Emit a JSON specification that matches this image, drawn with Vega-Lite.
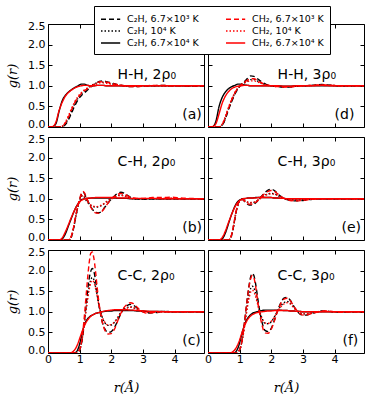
{
"$schema":"https://vega.github.io/schema/vega-lite/v6.json",
"background":"white",
"padding":{"left":6,"top":5,"right":5,"bottom":5},
"datasets":{"g":[
{"p":"a","r":0,"A1":0,"A2":0,"A3":0,"B1":0,"B2":0,"B3":0},
{"p":"a","r":0.15,"A1":0,"A2":0,"A3":0.01,"B1":0,"B2":0,"B3":0.01},
{"p":"a","r":0.25,"A1":0,"A2":0,"A3":0.08,"B1":0,"B2":0,"B3":0.12},
{"p":"a","r":0.35,"A1":0,"A2":0,"A3":0.38,"B1":0,"B2":0,"B3":0.4},
{"p":"a","r":0.45,"A1":0.01,"A2":0.01,"A3":0.64,"B1":0.02,"B2":0.02,"B3":0.6},
{"p":"a","r":0.55,"A1":0.06,"A2":0.08,"A3":0.77,"B1":0.1,"B2":0.12,"B3":0.75},
{"p":"a","r":0.65,"A1":0.18,"A2":0.22,"A3":0.85,"B1":0.25,"B2":0.28,"B3":0.84},
{"p":"a","r":0.75,"A1":0.35,"A2":0.4,"A3":0.91,"B1":0.43,"B2":0.46,"B3":0.9},
{"p":"a","r":0.85,"A1":0.52,"A2":0.57,"A3":0.96,"B1":0.6,"B2":0.62,"B3":0.95},
{"p":"a","r":0.95,"A1":0.66,"A2":0.7,"A3":1.0,"B1":0.72,"B2":0.74,"B3":0.98},
{"p":"a","r":1.05,"A1":0.76,"A2":0.8,"A3":1.04,"B1":0.81,"B2":0.83,"B3":1.0},
{"p":"a","r":1.15,"A1":0.83,"A2":0.88,"A3":1.04,"B1":0.88,"B2":0.9,"B3":1.01},
{"p":"a","r":1.25,"A1":0.9,"A2":0.94,"A3":1.01,"B1":0.93,"B2":0.95,"B3":1.01},
{"p":"a","r":1.35,"A1":0.97,"A2":0.99,"A3":1.0,"B1":0.98,"B2":0.99,"B3":1.0},
{"p":"a","r":1.45,"A1":1.03,"A2":1.04,"A3":1.0,"B1":1.03,"B2":1.02,"B3":1.0},
{"p":"a","r":1.55,"A1":1.08,"A2":1.07,"A3":1.01,"B1":1.07,"B2":1.05,"B3":1.01},
{"p":"a","r":1.65,"A1":1.11,"A2":1.09,"A3":1.01,"B1":1.1,"B2":1.07,"B3":1.01},
{"p":"a","r":1.75,"A1":1.12,"A2":1.09,"A3":1.01,"B1":1.1,"B2":1.07,"B3":1.01},
{"p":"a","r":1.85,"A1":1.1,"A2":1.08,"A3":1.0,"B1":1.09,"B2":1.06,"B3":1.0},
{"p":"a","r":2.0,"A1":1.07,"A2":1.05,"A3":1.0,"B1":1.06,"B2":1.04,"B3":1.0},
{"p":"a","r":2.2,"A1":1.03,"A2":1.02,"A3":1.0,"B1":1.03,"B2":1.02,"B3":1.0},
{"p":"a","r":2.4,"A1":1.0,"A2":1.0,"A3":1.0,"B1":1.0,"B2":1.0,"B3":1.0},
{"p":"a","r":2.6,"A1":0.98,"A2":0.99,"A3":1.0,"B1":0.98,"B2":0.99,"B3":1.0},
{"p":"a","r":2.8,"A1":0.98,"A2":0.99,"A3":1.0,"B1":0.98,"B2":0.99,"B3":1.0},
{"p":"a","r":3.0,"A1":0.99,"A2":1.0,"A3":1.0,"B1":0.99,"B2":1.0,"B3":1.0},
{"p":"a","r":3.3,"A1":1.0,"A2":1.0,"A3":1.0,"B1":1.01,"B2":1.0,"B3":1.0},
{"p":"a","r":3.6,"A1":1.01,"A2":1.0,"A3":1.0,"B1":1.01,"B2":1.0,"B3":1.0},
{"p":"a","r":3.9,"A1":1.0,"A2":1.0,"A3":1.0,"B1":1.0,"B2":1.0,"B3":1.0},
{"p":"a","r":4.2,"A1":1.0,"A2":1.0,"A3":1.0,"B1":1.0,"B2":1.0,"B3":1.0},
{"p":"a","r":4.5,"A1":0.99,"A2":1.0,"A3":1.0,"B1":1.0,"B2":1.0,"B3":1.0},
{"p":"a","r":4.93,"A1":1.0,"A2":1.0,"A3":1.0,"B1":1.0,"B2":1.0,"B3":1.0},

{"p":"d","r":0,"A1":0,"A2":0,"A3":0,"B1":0,"B2":0,"B3":0},
{"p":"d","r":0.15,"A1":0,"A2":0,"A3":0.01,"B1":0,"B2":0,"B3":0.01},
{"p":"d","r":0.25,"A1":0,"A2":0,"A3":0.14,"B1":0,"B2":0,"B3":0.08},
{"p":"d","r":0.35,"A1":0,"A2":0,"A3":0.5,"B1":0,"B2":0.01,"B3":0.32},
{"p":"d","r":0.45,"A1":0.04,"A2":0.05,"A3":0.72,"B1":0.06,"B2":0.07,"B3":0.58},
{"p":"d","r":0.55,"A1":0.2,"A2":0.22,"A3":0.85,"B1":0.24,"B2":0.26,"B3":0.75},
{"p":"d","r":0.65,"A1":0.42,"A2":0.45,"A3":0.93,"B1":0.46,"B2":0.48,"B3":0.86},
{"p":"d","r":0.75,"A1":0.62,"A2":0.65,"A3":0.98,"B1":0.66,"B2":0.68,"B3":0.93},
{"p":"d","r":0.85,"A1":0.8,"A2":0.82,"A3":1.01,"B1":0.83,"B2":0.84,"B3":0.97},
{"p":"d","r":0.95,"A1":0.93,"A2":0.94,"A3":1.04,"B1":0.95,"B2":0.95,"B3":0.99},
{"p":"d","r":1.05,"A1":1.03,"A2":1.02,"A3":1.04,"B1":1.03,"B2":1.02,"B3":1.0},
{"p":"d","r":1.15,"A1":1.1,"A2":1.07,"A3":1.02,"B1":1.09,"B2":1.07,"B3":1.01},
{"p":"d","r":1.25,"A1":1.18,"A2":1.12,"A3":1.01,"B1":1.14,"B2":1.1,"B3":1.01},
{"p":"d","r":1.35,"A1":1.24,"A2":1.15,"A3":1.0,"B1":1.17,"B2":1.12,"B3":1.0},
{"p":"d","r":1.45,"A1":1.23,"A2":1.15,"A3":1.0,"B1":1.17,"B2":1.12,"B3":1.0},
{"p":"d","r":1.55,"A1":1.18,"A2":1.12,"A3":1.0,"B1":1.14,"B2":1.1,"B3":1.0},
{"p":"d","r":1.65,"A1":1.12,"A2":1.08,"A3":1.0,"B1":1.09,"B2":1.07,"B3":1.0},
{"p":"d","r":1.75,"A1":1.07,"A2":1.05,"A3":1.0,"B1":1.05,"B2":1.04,"B3":1.0},
{"p":"d","r":1.85,"A1":1.03,"A2":1.02,"A3":1.0,"B1":1.02,"B2":1.02,"B3":1.0},
{"p":"d","r":2.0,"A1":1.0,"A2":1.0,"A3":1.0,"B1":1.0,"B2":1.0,"B3":1.0},
{"p":"d","r":2.2,"A1":0.98,"A2":0.99,"A3":1.0,"B1":0.98,"B2":0.99,"B3":1.0},
{"p":"d","r":2.4,"A1":0.97,"A2":0.98,"A3":0.99,"B1":0.97,"B2":0.98,"B3":0.99},
{"p":"d","r":2.6,"A1":0.97,"A2":0.98,"A3":0.99,"B1":0.97,"B2":0.98,"B3":0.99},
{"p":"d","r":2.8,"A1":0.99,"A2":0.99,"A3":1.0,"B1":0.99,"B2":0.99,"B3":1.0},
{"p":"d","r":3.0,"A1":1.0,"A2":1.0,"A3":1.0,"B1":1.0,"B2":1.0,"B3":1.0},
{"p":"d","r":3.3,"A1":1.01,"A2":1.01,"A3":1.0,"B1":1.01,"B2":1.01,"B3":1.0},
{"p":"d","r":3.6,"A1":1.03,"A2":1.02,"A3":1.0,"B1":1.02,"B2":1.02,"B3":1.01},
{"p":"d","r":3.9,"A1":1.01,"A2":1.01,"A3":1.0,"B1":1.01,"B2":1.01,"B3":1.0},
{"p":"d","r":4.2,"A1":1.0,"A2":1.0,"A3":1.0,"B1":1.0,"B2":1.0,"B3":1.0},
{"p":"d","r":4.5,"A1":1.0,"A2":1.0,"A3":1.0,"B1":1.0,"B2":1.0,"B3":1.0},
{"p":"d","r":4.93,"A1":1.0,"A2":1.0,"A3":1.0,"B1":1.0,"B2":1.0,"B3":1.0},

{"p":"b","r":0,"A1":0,"A2":0,"A3":0,"B1":0,"B2":0,"B3":0},
{"p":"b","r":0.35,"A1":0,"A2":0,"A3":0,"B1":0,"B2":0,"B3":0},
{"p":"b","r":0.45,"A1":0,"A2":0,"A3":0.03,"B1":0,"B2":0,"B3":0.05},
{"p":"b","r":0.55,"A1":0,"A2":0,"A3":0.15,"B1":0,"B2":0,"B3":0.2},
{"p":"b","r":0.65,"A1":0,"A2":0,"A3":0.35,"B1":0,"B2":0,"B3":0.38},
{"p":"b","r":0.7,"A1":0.02,"A2":0.02,"A3":0.45,"B1":0.03,"B2":0.03,"B3":0.48},
{"p":"b","r":0.75,"A1":0.1,"A2":0.1,"A3":0.55,"B1":0.12,"B2":0.12,"B3":0.57},
{"p":"b","r":0.8,"A1":0.25,"A2":0.25,"A3":0.65,"B1":0.28,"B2":0.28,"B3":0.66},
{"p":"b","r":0.85,"A1":0.45,"A2":0.45,"A3":0.74,"B1":0.48,"B2":0.48,"B3":0.74},
{"p":"b","r":0.9,"A1":0.65,"A2":0.65,"A3":0.82,"B1":0.68,"B2":0.67,"B3":0.81},
{"p":"b","r":0.95,"A1":0.83,"A2":0.82,"A3":0.88,"B1":0.86,"B2":0.83,"B3":0.87},
{"p":"b","r":1.0,"A1":0.98,"A2":0.96,"A3":0.93,"B1":1.0,"B2":0.96,"B3":0.92},
{"p":"b","r":1.05,"A1":1.1,"A2":1.05,"A3":0.97,"B1":1.12,"B2":1.05,"B3":0.96},
{"p":"b","r":1.1,"A1":1.16,"A2":1.08,"A3":0.99,"B1":1.18,"B2":1.09,"B3":0.98},
{"p":"b","r":1.15,"A1":1.13,"A2":1.04,"A3":1.0,"B1":1.15,"B2":1.06,"B3":1.0},
{"p":"b","r":1.2,"A1":1.04,"A2":0.97,"A3":1.01,"B1":1.06,"B2":0.99,"B3":1.01},
{"p":"b","r":1.3,"A1":0.88,"A2":0.87,"A3":1.01,"B1":0.88,"B2":0.88,"B3":1.02},
{"p":"b","r":1.4,"A1":0.75,"A2":0.82,"A3":1.02,"B1":0.74,"B2":0.83,"B3":1.02},
{"p":"b","r":1.5,"A1":0.67,"A2":0.8,"A3":1.02,"B1":0.66,"B2":0.81,"B3":1.03},
{"p":"b","r":1.6,"A1":0.66,"A2":0.81,"A3":1.02,"B1":0.65,"B2":0.82,"B3":1.03},
{"p":"b","r":1.7,"A1":0.7,"A2":0.84,"A3":1.02,"B1":0.69,"B2":0.85,"B3":1.03},
{"p":"b","r":1.8,"A1":0.8,"A2":0.9,"A3":1.02,"B1":0.79,"B2":0.9,"B3":1.03},
{"p":"b","r":1.9,"A1":0.9,"A2":0.96,"A3":1.02,"B1":0.9,"B2":0.95,"B3":1.03},
{"p":"b","r":2.0,"A1":0.99,"A2":1.01,"A3":1.02,"B1":0.99,"B2":1.0,"B3":1.03},
{"p":"b","r":2.1,"A1":1.07,"A2":1.05,"A3":1.02,"B1":1.06,"B2":1.04,"B3":1.03},
{"p":"b","r":2.2,"A1":1.13,"A2":1.08,"A3":1.01,"B1":1.11,"B2":1.07,"B3":1.02},
{"p":"b","r":2.3,"A1":1.16,"A2":1.09,"A3":1.01,"B1":1.13,"B2":1.08,"B3":1.02},
{"p":"b","r":2.4,"A1":1.14,"A2":1.08,"A3":1.01,"B1":1.12,"B2":1.07,"B3":1.02},
{"p":"b","r":2.5,"A1":1.09,"A2":1.05,"A3":1.01,"B1":1.08,"B2":1.05,"B3":1.02},
{"p":"b","r":2.6,"A1":1.04,"A2":1.02,"A3":1.0,"B1":1.04,"B2":1.02,"B3":1.01},
{"p":"b","r":2.7,"A1":1.01,"A2":1.0,"A3":1.0,"B1":1.02,"B2":1.0,"B3":1.01},
{"p":"b","r":2.8,"A1":1.0,"A2":0.99,"A3":1.0,"B1":1.01,"B2":1.0,"B3":1.01},
{"p":"b","r":3.0,"A1":0.99,"A2":0.99,"A3":1.0,"B1":1.01,"B2":1.0,"B3":1.01},
{"p":"b","r":3.3,"A1":1.0,"A2":1.0,"A3":1.0,"B1":1.03,"B2":1.01,"B3":1.01},
{"p":"b","r":3.6,"A1":1.0,"A2":1.0,"A3":1.0,"B1":1.03,"B2":1.01,"B3":1.0},
{"p":"b","r":3.9,"A1":1.0,"A2":1.0,"A3":1.0,"B1":1.04,"B2":1.02,"B3":1.0},
{"p":"b","r":4.2,"A1":1.0,"A2":1.0,"A3":1.0,"B1":1.02,"B2":1.0,"B3":1.0},
{"p":"b","r":4.5,"A1":1.0,"A2":1.0,"A3":1.0,"B1":1.01,"B2":1.0,"B3":1.0},
{"p":"b","r":4.93,"A1":1.0,"A2":1.0,"A3":1.0,"B1":1.0,"B2":1.0,"B3":1.0},

{"p":"e","r":0,"A1":0,"A2":0,"A3":0,"B1":0,"B2":0,"B3":0},
{"p":"e","r":0.35,"A1":0,"A2":0,"A3":0,"B1":0,"B2":0,"B3":0},
{"p":"e","r":0.45,"A1":0,"A2":0,"A3":0.03,"B1":0,"B2":0,"B3":0.06},
{"p":"e","r":0.55,"A1":0,"A2":0,"A3":0.17,"B1":0,"B2":0,"B3":0.22},
{"p":"e","r":0.65,"A1":0,"A2":0,"A3":0.4,"B1":0,"B2":0,"B3":0.43},
{"p":"e","r":0.7,"A1":0.03,"A2":0.03,"A3":0.52,"B1":0.04,"B2":0.04,"B3":0.53},
{"p":"e","r":0.75,"A1":0.12,"A2":0.12,"A3":0.63,"B1":0.14,"B2":0.14,"B3":0.63},
{"p":"e","r":0.8,"A1":0.3,"A2":0.3,"A3":0.73,"B1":0.32,"B2":0.32,"B3":0.72},
{"p":"e","r":0.85,"A1":0.52,"A2":0.52,"A3":0.82,"B1":0.54,"B2":0.54,"B3":0.8},
{"p":"e","r":0.9,"A1":0.72,"A2":0.72,"A3":0.89,"B1":0.74,"B2":0.73,"B3":0.87},
{"p":"e","r":0.95,"A1":0.87,"A2":0.86,"A3":0.94,"B1":0.88,"B2":0.87,"B3":0.92},
{"p":"e","r":1.0,"A1":0.96,"A2":0.95,"A3":0.97,"B1":0.96,"B2":0.95,"B3":0.96},
{"p":"e","r":1.05,"A1":0.99,"A2":0.98,"A3":0.99,"B1":0.99,"B2":0.98,"B3":0.98},
{"p":"e","r":1.1,"A1":0.98,"A2":0.98,"A3":1.0,"B1":0.98,"B2":0.98,"B3":1.0},
{"p":"e","r":1.15,"A1":0.94,"A2":0.96,"A3":1.0,"B1":0.95,"B2":0.96,"B3":1.01},
{"p":"e","r":1.2,"A1":0.9,"A2":0.94,"A3":1.01,"B1":0.91,"B2":0.94,"B3":1.01},
{"p":"e","r":1.3,"A1":0.85,"A2":0.9,"A3":1.02,"B1":0.87,"B2":0.91,"B3":1.02},
{"p":"e","r":1.4,"A1":0.85,"A2":0.9,"A3":1.02,"B1":0.87,"B2":0.91,"B3":1.02},
{"p":"e","r":1.5,"A1":0.9,"A2":0.93,"A3":1.03,"B1":0.91,"B2":0.93,"B3":1.02},
{"p":"e","r":1.6,"A1":0.98,"A2":0.98,"A3":1.03,"B1":0.98,"B2":0.98,"B3":1.03},
{"p":"e","r":1.7,"A1":1.07,"A2":1.04,"A3":1.03,"B1":1.06,"B2":1.03,"B3":1.03},
{"p":"e","r":1.8,"A1":1.15,"A2":1.09,"A3":1.03,"B1":1.13,"B2":1.08,"B3":1.03},
{"p":"e","r":1.9,"A1":1.21,"A2":1.12,"A3":1.03,"B1":1.18,"B2":1.11,"B3":1.03},
{"p":"e","r":2.0,"A1":1.23,"A2":1.13,"A3":1.03,"B1":1.2,"B2":1.12,"B3":1.03},
{"p":"e","r":2.1,"A1":1.2,"A2":1.12,"A3":1.02,"B1":1.18,"B2":1.11,"B3":1.02},
{"p":"e","r":2.2,"A1":1.13,"A2":1.08,"A3":1.02,"B1":1.12,"B2":1.08,"B3":1.02},
{"p":"e","r":2.3,"A1":1.06,"A2":1.04,"A3":1.01,"B1":1.06,"B2":1.04,"B3":1.01},
{"p":"e","r":2.4,"A1":1.01,"A2":1.01,"A3":1.01,"B1":1.01,"B2":1.01,"B3":1.01},
{"p":"e","r":2.5,"A1":0.98,"A2":0.99,"A3":1.0,"B1":0.98,"B2":0.99,"B3":1.0},
{"p":"e","r":2.6,"A1":0.96,"A2":0.98,"A3":1.0,"B1":0.96,"B2":0.98,"B3":1.0},
{"p":"e","r":2.7,"A1":0.95,"A2":0.97,"A3":1.0,"B1":0.95,"B2":0.97,"B3":1.0},
{"p":"e","r":2.8,"A1":0.95,"A2":0.97,"A3":1.0,"B1":0.95,"B2":0.97,"B3":1.0},
{"p":"e","r":3.0,"A1":0.96,"A2":0.98,"A3":1.0,"B1":0.96,"B2":0.98,"B3":1.0},
{"p":"e","r":3.3,"A1":0.99,"A2":0.99,"A3":1.0,"B1":0.99,"B2":0.99,"B3":1.0},
{"p":"e","r":3.6,"A1":1.0,"A2":1.0,"A3":1.0,"B1":1.0,"B2":1.0,"B3":1.0},
{"p":"e","r":3.9,"A1":1.0,"A2":1.0,"A3":1.0,"B1":1.0,"B2":1.0,"B3":1.0},
{"p":"e","r":4.2,"A1":1.0,"A2":1.0,"A3":1.0,"B1":1.0,"B2":1.0,"B3":1.0},
{"p":"e","r":4.5,"A1":1.0,"A2":1.0,"A3":1.0,"B1":1.0,"B2":1.0,"B3":1.0},
{"p":"e","r":4.93,"A1":1.0,"A2":1.0,"A3":1.0,"B1":1.0,"B2":1.0,"B3":1.0},

{"p":"c","r":0,"A1":0,"A2":0,"A3":0,"B1":0,"B2":0,"B3":0},
{"p":"c","r":0.7,"A1":0,"A2":0,"A3":0,"B1":0,"B2":0,"B3":0},
{"p":"c","r":0.8,"A1":0,"A2":0,"A3":0,"B1":0,"B2":0,"B3":0.04},
{"p":"c","r":0.9,"A1":0,"A2":0,"A3":0.03,"B1":0,"B2":0,"B3":0.15},
{"p":"c","r":0.95,"A1":0.02,"A2":0.02,"A3":0.1,"B1":0.02,"B2":0.02,"B3":0.24},
{"p":"c","r":1.0,"A1":0.08,"A2":0.08,"A3":0.22,"B1":0.08,"B2":0.08,"B3":0.35},
{"p":"c","r":1.05,"A1":0.2,"A2":0.22,"A3":0.38,"B1":0.22,"B2":0.22,"B3":0.46},
{"p":"c","r":1.1,"A1":0.42,"A2":0.45,"A3":0.55,"B1":0.5,"B2":0.45,"B3":0.57},
{"p":"c","r":1.15,"A1":0.75,"A2":0.75,"A3":0.68,"B1":0.9,"B2":0.73,"B3":0.66},
{"p":"c","r":1.2,"A1":1.12,"A2":1.05,"A3":0.77,"B1":1.35,"B2":1.02,"B3":0.74},
{"p":"c","r":1.25,"A1":1.5,"A2":1.35,"A3":0.83,"B1":1.8,"B2":1.3,"B3":0.8},
{"p":"c","r":1.3,"A1":1.8,"A2":1.6,"A3":0.87,"B1":2.18,"B2":1.53,"B3":0.85},
{"p":"c","r":1.35,"A1":1.98,"A2":1.77,"A3":0.9,"B1":2.42,"B2":1.7,"B3":0.89},
{"p":"c","r":1.4,"A1":2.05,"A2":1.83,"A3":0.92,"B1":2.45,"B2":1.76,"B3":0.92},
{"p":"c","r":1.45,"A1":1.98,"A2":1.78,"A3":0.94,"B1":2.3,"B2":1.72,"B3":0.94},
{"p":"c","r":1.5,"A1":1.78,"A2":1.62,"A3":0.96,"B1":2.0,"B2":1.58,"B3":0.96},
{"p":"c","r":1.55,"A1":1.5,"A2":1.42,"A3":0.97,"B1":1.62,"B2":1.4,"B3":0.97},
{"p":"c","r":1.6,"A1":1.22,"A2":1.2,"A3":0.98,"B1":1.28,"B2":1.2,"B3":0.98},
{"p":"c","r":1.7,"A1":0.8,"A2":0.9,"A3":1.0,"B1":0.8,"B2":0.9,"B3":1.0},
{"p":"c","r":1.8,"A1":0.58,"A2":0.73,"A3":1.01,"B1":0.55,"B2":0.74,"B3":1.02},
{"p":"c","r":1.9,"A1":0.5,"A2":0.67,"A3":1.02,"B1":0.46,"B2":0.68,"B3":1.03},
{"p":"c","r":2.0,"A1":0.52,"A2":0.68,"A3":1.02,"B1":0.47,"B2":0.69,"B3":1.04},
{"p":"c","r":2.1,"A1":0.62,"A2":0.75,"A3":1.03,"B1":0.58,"B2":0.75,"B3":1.05},
{"p":"c","r":2.2,"A1":0.78,"A2":0.86,"A3":1.03,"B1":0.77,"B2":0.85,"B3":1.05},
{"p":"c","r":2.3,"A1":0.95,"A2":0.98,"A3":1.03,"B1":0.96,"B2":0.97,"B3":1.05},
{"p":"c","r":2.4,"A1":1.08,"A2":1.06,"A3":1.03,"B1":1.1,"B2":1.05,"B3":1.05},
{"p":"c","r":2.5,"A1":1.15,"A2":1.1,"A3":1.03,"B1":1.18,"B2":1.09,"B3":1.05},
{"p":"c","r":2.6,"A1":1.18,"A2":1.12,"A3":1.03,"B1":1.22,"B2":1.11,"B3":1.04},
{"p":"c","r":2.7,"A1":1.16,"A2":1.1,"A3":1.03,"B1":1.2,"B2":1.1,"B3":1.04},
{"p":"c","r":2.8,"A1":1.1,"A2":1.06,"A3":1.02,"B1":1.12,"B2":1.06,"B3":1.03},
{"p":"c","r":2.9,"A1":1.04,"A2":1.02,"A3":1.02,"B1":1.05,"B2":1.02,"B3":1.03},
{"p":"c","r":3.0,"A1":1.0,"A2":1.0,"A3":1.02,"B1":1.0,"B2":1.0,"B3":1.02},
{"p":"c","r":3.1,"A1":0.98,"A2":0.99,"A3":1.01,"B1":0.97,"B2":0.99,"B3":1.02},
{"p":"c","r":3.2,"A1":0.97,"A2":0.99,"A3":1.01,"B1":0.97,"B2":0.99,"B3":1.01},
{"p":"c","r":3.4,"A1":0.98,"A2":0.99,"A3":1.01,"B1":0.99,"B2":0.99,"B3":1.01},
{"p":"c","r":3.6,"A1":1.0,"A2":1.0,"A3":1.01,"B1":1.01,"B2":1.0,"B3":1.0},
{"p":"c","r":3.8,"A1":1.01,"A2":1.0,"A3":1.0,"B1":1.0,"B2":1.0,"B3":1.0},
{"p":"c","r":4.0,"A1":1.0,"A2":1.0,"A3":1.0,"B1":1.0,"B2":1.0,"B3":1.0},
{"p":"c","r":4.2,"A1":1.0,"A2":1.0,"A3":1.0,"B1":1.0,"B2":1.0,"B3":1.0},
{"p":"c","r":4.5,"A1":1.0,"A2":1.0,"A3":1.0,"B1":1.0,"B2":1.0,"B3":1.0},
{"p":"c","r":4.93,"A1":1.0,"A2":1.0,"A3":1.0,"B1":1.0,"B2":1.0,"B3":1.0},

{"p":"f","r":0,"A1":0,"A2":0,"A3":0,"B1":0,"B2":0,"B3":0},
{"p":"f","r":0.7,"A1":0,"A2":0,"A3":0,"B1":0,"B2":0,"B3":0},
{"p":"f","r":0.8,"A1":0,"A2":0,"A3":0,"B1":0,"B2":0,"B3":0.04},
{"p":"f","r":0.9,"A1":0,"A2":0,"A3":0.05,"B1":0,"B2":0,"B3":0.14},
{"p":"f","r":0.95,"A1":0.02,"A2":0.02,"A3":0.13,"B1":0.02,"B2":0.02,"B3":0.22},
{"p":"f","r":1.0,"A1":0.08,"A2":0.08,"A3":0.25,"B1":0.08,"B2":0.08,"B3":0.32},
{"p":"f","r":1.05,"A1":0.2,"A2":0.2,"A3":0.4,"B1":0.2,"B2":0.2,"B3":0.44},
{"p":"f","r":1.1,"A1":0.42,"A2":0.4,"A3":0.55,"B1":0.42,"B2":0.38,"B3":0.55},
{"p":"f","r":1.15,"A1":0.72,"A2":0.65,"A3":0.67,"B1":0.72,"B2":0.62,"B3":0.65},
{"p":"f","r":1.2,"A1":1.05,"A2":0.93,"A3":0.77,"B1":1.04,"B2":0.88,"B3":0.74},
{"p":"f","r":1.25,"A1":1.38,"A2":1.2,"A3":0.84,"B1":1.36,"B2":1.13,"B3":0.81},
{"p":"f","r":1.3,"A1":1.65,"A2":1.42,"A3":0.89,"B1":1.62,"B2":1.34,"B3":0.86},
{"p":"f","r":1.35,"A1":1.85,"A2":1.57,"A3":0.93,"B1":1.81,"B2":1.48,"B3":0.9},
{"p":"f","r":1.4,"A1":1.93,"A2":1.62,"A3":0.96,"B1":1.88,"B2":1.52,"B3":0.93},
{"p":"f","r":1.45,"A1":1.88,"A2":1.58,"A3":0.98,"B1":1.83,"B2":1.49,"B3":0.95},
{"p":"f","r":1.5,"A1":1.7,"A2":1.46,"A3":0.99,"B1":1.64,"B2":1.38,"B3":0.97},
{"p":"f","r":1.55,"A1":1.45,"A2":1.3,"A3":1.0,"B1":1.38,"B2":1.24,"B3":0.98},
{"p":"f","r":1.6,"A1":1.18,"A2":1.12,"A3":1.01,"B1":1.1,"B2":1.08,"B3":0.99},
{"p":"f","r":1.7,"A1":0.77,"A2":0.86,"A3":1.03,"B1":0.7,"B2":0.85,"B3":1.0},
{"p":"f","r":1.8,"A1":0.55,"A2":0.72,"A3":1.04,"B1":0.49,"B2":0.73,"B3":1.01},
{"p":"f","r":1.9,"A1":0.52,"A2":0.71,"A3":1.04,"B1":0.48,"B2":0.72,"B3":1.02},
{"p":"f","r":2.0,"A1":0.6,"A2":0.76,"A3":1.04,"B1":0.58,"B2":0.77,"B3":1.02},
{"p":"f","r":2.1,"A1":0.8,"A2":0.88,"A3":1.04,"B1":0.78,"B2":0.88,"B3":1.03},
{"p":"f","r":2.2,"A1":1.03,"A2":1.02,"A3":1.04,"B1":1.02,"B2":1.01,"B3":1.03},
{"p":"f","r":2.3,"A1":1.22,"A2":1.14,"A3":1.04,"B1":1.2,"B2":1.12,"B3":1.03},
{"p":"f","r":2.4,"A1":1.33,"A2":1.22,"A3":1.03,"B1":1.31,"B2":1.19,"B3":1.03},
{"p":"f","r":2.5,"A1":1.35,"A2":1.25,"A3":1.03,"B1":1.33,"B2":1.22,"B3":1.03},
{"p":"f","r":2.6,"A1":1.28,"A2":1.21,"A3":1.02,"B1":1.27,"B2":1.19,"B3":1.02},
{"p":"f","r":2.7,"A1":1.15,"A2":1.12,"A3":1.02,"B1":1.15,"B2":1.11,"B3":1.02},
{"p":"f","r":2.8,"A1":1.03,"A2":1.04,"A3":1.01,"B1":1.04,"B2":1.03,"B3":1.01},
{"p":"f","r":2.9,"A1":0.95,"A2":0.98,"A3":1.01,"B1":0.96,"B2":0.98,"B3":1.01},
{"p":"f","r":3.0,"A1":0.92,"A2":0.95,"A3":1.0,"B1":0.92,"B2":0.95,"B3":1.0},
{"p":"f","r":3.1,"A1":0.92,"A2":0.95,"A3":1.0,"B1":0.92,"B2":0.95,"B3":1.0},
{"p":"f","r":3.2,"A1":0.94,"A2":0.96,"A3":1.0,"B1":0.94,"B2":0.96,"B3":1.0},
{"p":"f","r":3.4,"A1":0.99,"A2":0.99,"A3":1.0,"B1":0.98,"B2":0.99,"B3":1.0},
{"p":"f","r":3.6,"A1":1.02,"A2":1.01,"A3":1.0,"B1":1.02,"B2":1.01,"B3":1.0},
{"p":"f","r":3.8,"A1":1.01,"A2":1.01,"A3":1.0,"B1":1.02,"B2":1.01,"B3":1.0},
{"p":"f","r":4.0,"A1":1.0,"A2":1.0,"A3":1.0,"B1":1.0,"B2":1.0,"B3":1.0},
{"p":"f","r":4.2,"A1":0.99,"A2":1.0,"A3":1.0,"B1":0.99,"B2":1.0,"B3":1.0},
{"p":"f","r":4.5,"A1":1.0,"A2":1.0,"A3":1.0,"B1":1.0,"B2":1.0,"B3":1.0},
{"p":"f","r":4.93,"A1":1.0,"A2":1.0,"A3":1.0,"B1":1.0,"B2":1.0,"B3":1.0}
]},
"data":{"name":"g"},
"columns":2,
"spacing":{"row":10,"column":4},
"bounds":"flush",
"concat":[
{"width":156,"height":103,
 "transform":[{"filter":"datum.p=='a'"},{"fold":["A1","A2","A3","B1","B2","B3"],"as":["s","g"]}],
 "resolve":{"axis":{"x":"independent","y":"independent"}},
 "layer":[
  {"mark":{"type":"line","strokeWidth":1.4,"interpolate":"monotone","clip":true},
   "encoding":{
    "x":{"field":"r","type":"quantitative","scale":{"domain":[0,4.93],"nice":false},"axis":{"labels":false,"title":null,"values":[0,1,2,3,4]}},
    "y":{"field":"g","type":"quantitative","scale":{"domain":[0,2.5],"nice":false},"axis":{"title":"g(r)","values":[0,0.5,1,1.5,2,2.4999],"format":".1f","labelOffset":{"condition":[{"test":"datum.value < 0.1","value":-2.5},{"test":"datum.value > 2.4","value":2.5}],"value":0}}},
    "color":{"field":"s","type":"nominal","scale":{"domain":["A1","A2","A3","B1","B2","B3"],"range":["#000000","#000000","#000000","#ff0000","#ff0000","#ff0000"]},"legend":{"title":null,"labelExpr":"datum.label=='A1'?'C₂H, 6.7×10³ K':datum.label=='A2'?'C₂H, 10⁴ K':datum.label=='A3'?'C₂H, 6.7×10⁴ K':datum.label=='B1'?'CH₂, 6.7×10³ K':datum.label=='B2'?'CH₂, 10⁴ K':'CH₂, 6.7×10⁴ K'"}},
    "strokeDash":{"field":"s","type":"nominal","scale":{"domain":["A1","A2","A3","B1","B2","B3"],"range":[[5,3],[1.5,2],[1,0],[5,3],[1.5,2],[1,0]]},"legend":{"title":null,"labelExpr":"datum.label=='A1'?'C₂H, 6.7×10³ K':datum.label=='A2'?'C₂H, 10⁴ K':datum.label=='A3'?'C₂H, 6.7×10⁴ K':datum.label=='B1'?'CH₂, 6.7×10³ K':datum.label=='B2'?'CH₂, 10⁴ K':'CH₂, 6.7×10⁴ K'"}}
   }},
  {"data":{"values":[{}]},"mark":{"type":"point","opacity":0},"encoding":{"x":{"datum":1,"type":"quantitative","axis":{"orient":"top","labels":false,"title":null,"values":[0,1,2,3,4]}},"y":{"datum":1,"type":"quantitative","axis":{"orient":"right","labels":false,"title":null,"values":[0,0.5,1,1.5,2,2.4999]}}}},
  {"data":{"values":[{}]},"mark":{"type":"text","text":"H-H, 2ρ₀","align":"left","baseline":"alphabetic"},"encoding":{"x":{"datum":2.2,"type":"quantitative","axis":null},"y":{"datum":1.16,"type":"quantitative","axis":null}}},
  {"data":{"values":[{}]},"mark":{"type":"text","text":"(a)","align":"left","baseline":"middle"},"encoding":{"x":{"datum":4.24,"type":"quantitative","axis":null},"y":{"datum":0.28,"type":"quantitative","axis":null}}}
 ]},
{"width":156,"height":103,
 "transform":[{"filter":"datum.p=='d'"},{"fold":["A1","A2","A3","B1","B2","B3"],"as":["s","g"]}],
 "resolve":{"axis":{"x":"independent","y":"independent"}},
 "layer":[
  {"mark":{"type":"line","strokeWidth":1.4,"interpolate":"monotone","clip":true},
   "encoding":{
    "x":{"field":"r","type":"quantitative","scale":{"domain":[0,4.93],"nice":false},"axis":{"labels":false,"title":null,"values":[0,1,2,3,4]}},
    "y":{"field":"g","type":"quantitative","scale":{"domain":[0,2.5],"nice":false},"axis":{"labels":false,"title":null,"values":[0,0.5,1,1.5,2,2.4999]}},
    "color":{"field":"s","type":"nominal","scale":{"domain":["A1","A2","A3","B1","B2","B3"],"range":["#000000","#000000","#000000","#ff0000","#ff0000","#ff0000"]}},
    "strokeDash":{"field":"s","type":"nominal","scale":{"domain":["A1","A2","A3","B1","B2","B3"],"range":[[5,3],[1.5,2],[1,0],[5,3],[1.5,2],[1,0]]}}
   }},
  {"data":{"values":[{}]},"mark":{"type":"point","opacity":0},"encoding":{"x":{"datum":1,"type":"quantitative","axis":{"orient":"top","labels":false,"title":null,"values":[0,1,2,3,4]}},"y":{"datum":1,"type":"quantitative","axis":{"orient":"right","labels":false,"title":null,"values":[0,0.5,1,1.5,2,2.4999]}}}},
  {"data":{"values":[{}]},"mark":{"type":"text","text":"H-H, 3ρ₀","align":"left","baseline":"alphabetic"},"encoding":{"x":{"datum":2.2,"type":"quantitative","axis":null},"y":{"datum":1.16,"type":"quantitative","axis":null}}},
  {"data":{"values":[{}]},"mark":{"type":"text","text":"(d)","align":"left","baseline":"middle"},"encoding":{"x":{"datum":4.0,"type":"quantitative","axis":null},"y":{"datum":0.28,"type":"quantitative","axis":null}}}
 ]},
{"width":156,"height":103,
 "transform":[{"filter":"datum.p=='b'"},{"fold":["A1","A2","A3","B1","B2","B3"],"as":["s","g"]}],
 "resolve":{"axis":{"x":"independent","y":"independent"}},
 "layer":[
  {"mark":{"type":"line","strokeWidth":1.4,"interpolate":"monotone","clip":true},
   "encoding":{
    "x":{"field":"r","type":"quantitative","scale":{"domain":[0,4.93],"nice":false},"axis":{"labels":false,"title":null,"values":[0,1,2,3,4]}},
    "y":{"field":"g","type":"quantitative","scale":{"domain":[0,2.5],"nice":false},"axis":{"title":"g(r)","values":[0,0.5,1,1.5,2,2.4999],"format":".1f","labelOffset":{"condition":[{"test":"datum.value < 0.1","value":-2.5},{"test":"datum.value > 2.4","value":2.5}],"value":0}}},
    "color":{"field":"s","type":"nominal","scale":{"domain":["A1","A2","A3","B1","B2","B3"],"range":["#000000","#000000","#000000","#ff0000","#ff0000","#ff0000"]}},
    "strokeDash":{"field":"s","type":"nominal","scale":{"domain":["A1","A2","A3","B1","B2","B3"],"range":[[5,3],[1.5,2],[1,0],[5,3],[1.5,2],[1,0]]}}
   }},
  {"data":{"values":[{}]},"mark":{"type":"point","opacity":0},"encoding":{"x":{"datum":1,"type":"quantitative","axis":{"orient":"top","labels":false,"title":null,"values":[0,1,2,3,4]}},"y":{"datum":1,"type":"quantitative","axis":{"orient":"right","labels":false,"title":null,"values":[0,0.5,1,1.5,2,2.4999]}}}},
  {"data":{"values":[{}]},"mark":{"type":"text","text":"C-H, 2ρ₀","align":"left","baseline":"alphabetic"},"encoding":{"x":{"datum":2.2,"type":"quantitative","axis":null},"y":{"datum":1.79,"type":"quantitative","axis":null}}},
  {"data":{"values":[{}]},"mark":{"type":"text","text":"(b)","align":"left","baseline":"middle"},"encoding":{"x":{"datum":4.24,"type":"quantitative","axis":null},"y":{"datum":0.28,"type":"quantitative","axis":null}}}
 ]},
{"width":156,"height":103,
 "transform":[{"filter":"datum.p=='e'"},{"fold":["A1","A2","A3","B1","B2","B3"],"as":["s","g"]}],
 "resolve":{"axis":{"x":"independent","y":"independent"}},
 "layer":[
  {"mark":{"type":"line","strokeWidth":1.4,"interpolate":"monotone","clip":true},
   "encoding":{
    "x":{"field":"r","type":"quantitative","scale":{"domain":[0,4.93],"nice":false},"axis":{"labels":false,"title":null,"values":[0,1,2,3,4]}},
    "y":{"field":"g","type":"quantitative","scale":{"domain":[0,2.5],"nice":false},"axis":{"labels":false,"title":null,"values":[0,0.5,1,1.5,2,2.4999]}},
    "color":{"field":"s","type":"nominal","scale":{"domain":["A1","A2","A3","B1","B2","B3"],"range":["#000000","#000000","#000000","#ff0000","#ff0000","#ff0000"]}},
    "strokeDash":{"field":"s","type":"nominal","scale":{"domain":["A1","A2","A3","B1","B2","B3"],"range":[[5,3],[1.5,2],[1,0],[5,3],[1.5,2],[1,0]]}}
   }},
  {"data":{"values":[{}]},"mark":{"type":"point","opacity":0},"encoding":{"x":{"datum":1,"type":"quantitative","axis":{"orient":"top","labels":false,"title":null,"values":[0,1,2,3,4]}},"y":{"datum":1,"type":"quantitative","axis":{"orient":"right","labels":false,"title":null,"values":[0,0.5,1,1.5,2,2.4999]}}}},
  {"data":{"values":[{}]},"mark":{"type":"text","text":"C-H, 3ρ₀","align":"left","baseline":"alphabetic"},"encoding":{"x":{"datum":2.2,"type":"quantitative","axis":null},"y":{"datum":1.79,"type":"quantitative","axis":null}}},
  {"data":{"values":[{}]},"mark":{"type":"text","text":"(e)","align":"left","baseline":"middle"},"encoding":{"x":{"datum":4.22,"type":"quantitative","axis":null},"y":{"datum":0.28,"type":"quantitative","axis":null}}}
 ]},
{"width":156,"height":103,
 "transform":[{"filter":"datum.p=='c'"},{"fold":["A1","A2","A3","B1","B2","B3"],"as":["s","g"]}],
 "resolve":{"axis":{"x":"independent","y":"independent"}},
 "layer":[
  {"mark":{"type":"line","strokeWidth":1.4,"interpolate":"monotone","clip":true},
   "encoding":{
    "x":{"field":"r","type":"quantitative","scale":{"domain":[0,4.93],"nice":false},"axis":{"title":"r(Å)","values":[0,1,2,3,4],"format":"d"}},
    "y":{"field":"g","type":"quantitative","scale":{"domain":[0,2.5],"nice":false},"axis":{"title":"g(r)","values":[0,0.5,1,1.5,2,2.4999],"format":".1f","labelOffset":{"condition":[{"test":"datum.value < 0.1","value":-2.5},{"test":"datum.value > 2.4","value":2.5}],"value":0}}},
    "color":{"field":"s","type":"nominal","scale":{"domain":["A1","A2","A3","B1","B2","B3"],"range":["#000000","#000000","#000000","#ff0000","#ff0000","#ff0000"]}},
    "strokeDash":{"field":"s","type":"nominal","scale":{"domain":["A1","A2","A3","B1","B2","B3"],"range":[[5,3],[1.5,2],[1,0],[5,3],[1.5,2],[1,0]]}}
   }},
  {"data":{"values":[{}]},"mark":{"type":"point","opacity":0},"encoding":{"x":{"datum":1,"type":"quantitative","axis":{"orient":"top","labels":false,"title":null,"values":[0,1,2,3,4]}},"y":{"datum":1,"type":"quantitative","axis":{"orient":"right","labels":false,"title":null,"values":[0,0.5,1,1.5,2,2.4999]}}}},
  {"data":{"values":[{}]},"mark":{"type":"text","text":"C-C, 2ρ₀","align":"left","baseline":"alphabetic"},"encoding":{"x":{"datum":2.2,"type":"quantitative","axis":null},"y":{"datum":1.77,"type":"quantitative","axis":null}}},
  {"data":{"values":[{}]},"mark":{"type":"text","text":"(c)","align":"left","baseline":"middle"},"encoding":{"x":{"datum":4.24,"type":"quantitative","axis":null},"y":{"datum":0.28,"type":"quantitative","axis":null}}}
 ]},
{"width":156,"height":103,
 "transform":[{"filter":"datum.p=='f'"},{"fold":["A1","A2","A3","B1","B2","B3"],"as":["s","g"]}],
 "resolve":{"axis":{"x":"independent","y":"independent"}},
 "layer":[
  {"mark":{"type":"line","strokeWidth":1.4,"interpolate":"monotone","clip":true},
   "encoding":{
    "x":{"field":"r","type":"quantitative","scale":{"domain":[0,4.93],"nice":false},"axis":{"title":"r(Å)","values":[0,1,2,3,4],"format":"d"}},
    "y":{"field":"g","type":"quantitative","scale":{"domain":[0,2.5],"nice":false},"axis":{"labels":false,"title":null,"values":[0,0.5,1,1.5,2,2.4999]}},
    "color":{"field":"s","type":"nominal","scale":{"domain":["A1","A2","A3","B1","B2","B3"],"range":["#000000","#000000","#000000","#ff0000","#ff0000","#ff0000"]}},
    "strokeDash":{"field":"s","type":"nominal","scale":{"domain":["A1","A2","A3","B1","B2","B3"],"range":[[5,3],[1.5,2],[1,0],[5,3],[1.5,2],[1,0]]}}
   }},
  {"data":{"values":[{}]},"mark":{"type":"point","opacity":0},"encoding":{"x":{"datum":1,"type":"quantitative","axis":{"orient":"top","labels":false,"title":null,"values":[0,1,2,3,4]}},"y":{"datum":1,"type":"quantitative","axis":{"orient":"right","labels":false,"title":null,"values":[0,0.5,1,1.5,2,2.4999]}}}},
  {"data":{"values":[{}]},"mark":{"type":"text","text":"C-C, 3ρ₀","align":"left","baseline":"alphabetic"},"encoding":{"x":{"datum":2.2,"type":"quantitative","axis":null},"y":{"datum":1.77,"type":"quantitative","axis":null}}},
  {"data":{"values":[{}]},"mark":{"type":"text","text":"(f)","align":"left","baseline":"middle"},"encoding":{"x":{"datum":4.25,"type":"quantitative","axis":null},"y":{"datum":0.28,"type":"quantitative","axis":null}}}
 ]}
],
"config":{
 "font":"DejaVu Sans",
 "view":{"stroke":"black","strokeWidth":1},
 "axis":{"domain":false,"grid":false,"ticks":true,"tickColor":"black","tickSize":-4,"tickWidth":1,"labelFontSize":11,"labelColor":"black","labelFont":"DejaVu Sans","labelFlush":false,"labelOverlap":false,"labelBound":false,"titleFont":"DejaVu Serif","titleFontStyle":"italic","titleFontWeight":"normal","titleFontSize":13,"titleColor":"black"},
 "axisX":{"titlePadding":17,"labelPadding":4},
 "axisY":{"titlePadding":8,"labelPadding":7},
 "legend":{"orient":"none","legendX":46,"legendY":-18,"columns":2,"columnPadding":24,"rowPadding":0,"symbolType":"M-1,0L2.2,0","symbolSize":144,"symbolStrokeWidth":1.5,"labelFont":"DejaVu Sans","labelFontSize":9.5,"labelColor":"black","labelOffset":13,"fillColor":"white","strokeColor":"black","padding":6},
 "text":{"font":"DejaVu Sans","fontSize":14,"color":"black"}
}
}
